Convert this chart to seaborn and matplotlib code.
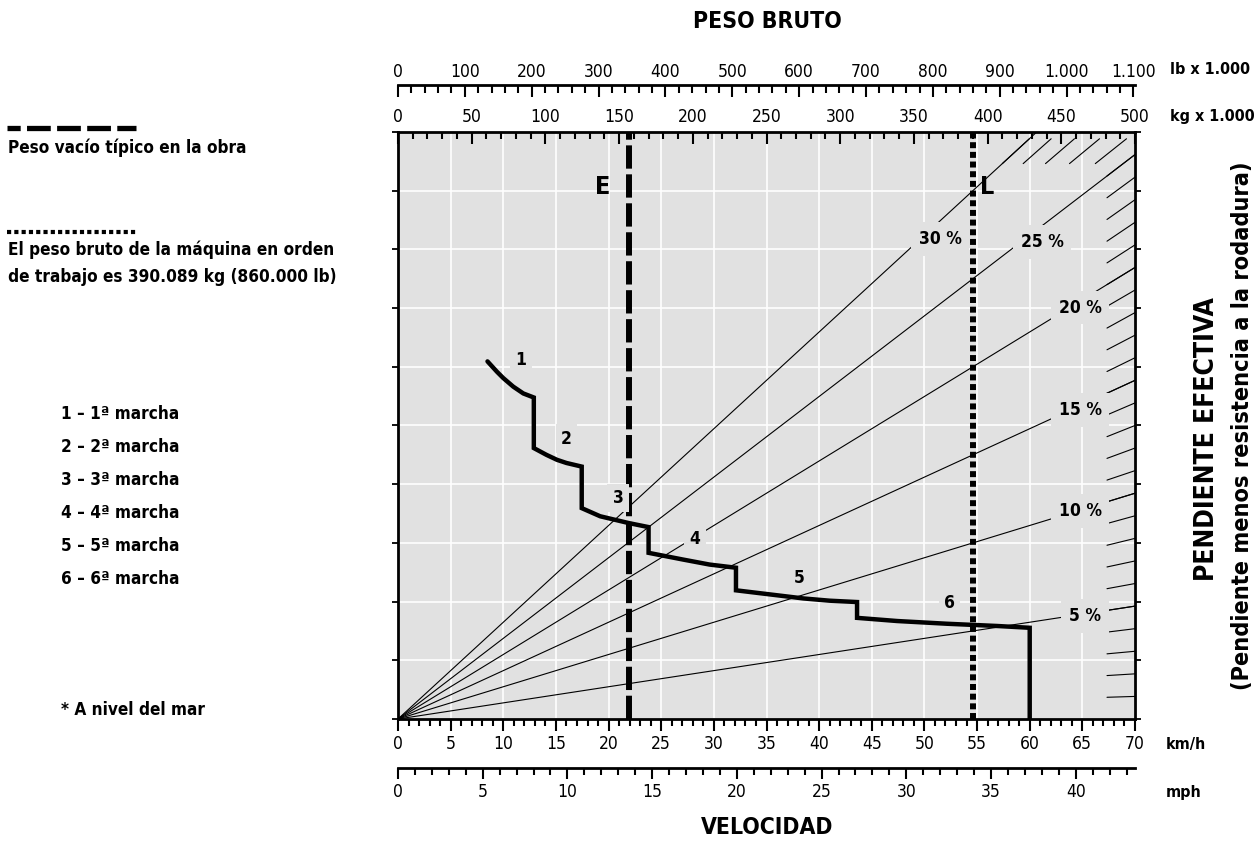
import numpy as np
import pandas as pd
import matplotlib
matplotlib.use("Agg")
import matplotlib.pyplot as plt
import seaborn as sns
from matplotlib.lines import Line2D
from matplotlib.ticker import MultipleLocator, FixedLocator, FuncFormatter

# Rimpull curve for each gear: speed (km/h) and rimpull (kg x 1000)
gear1_kmh = [8.5, 9.4, 10.0, 10.95, 11.9, 12.9]
gear1_pull = [79.2, 76.9, 75.5, 73.6, 72.1, 71.2]
gear2_kmh = [12.9, 14.1, 15.1, 16.0, 17.45]
gear2_pull = [60.0, 58.5, 57.4, 56.7, 55.9]
gear3_kmh = [17.45, 19.2, 21.9, 23.8]
gear3_pull = [46.7, 44.9, 43.4, 42.5]
gear4_kmh = [23.8, 27.1, 29.6, 32.1]
gear4_pull = [36.8, 35.3, 34.2, 33.5]
gear5_kmh = [32.1, 35.3, 38.5, 41.0, 43.6]
gear5_pull = [28.5, 27.6, 26.7, 26.2, 25.9]
gear6_kmh = [43.6, 47.4, 52.1, 56.9, 60.0, 60.0]
gear6_pull = [22.4, 21.7, 21.1, 20.6, 20.2, 0.0]

gear_names = ["1", "2", "3", "4", "5", "6"]

# Effective grade lines (percent) and the fine grade scale on the border
labeled_grades = [5, 10, 15, 20, 25, 30]
scale_grades = list(range(1, 31))

# Reference weights (kg x 1000)
empty_weight = 156.5      # E
gross_weight = 390.089    # L

# Tick values of the secondary scales
lb_major = list(range(0, 1101, 100))
lb_minor = list(range(0, 1101, 20))
mph_major = list(range(0, 41, 5))
mph_minor = list(range(0, 44, 1))

W, H = 1260, 848
FONT = ["Liberation Sans Narrow", "DejaVu Sans"]
BG = "#e1e1e1"
TICK_FS = 12.5
KEY_FS = 12.3

sns.set_theme(style="darkgrid", rc={"axes.facecolor": BG, "grid.color": "white",
                                    "text.color": "black", "xtick.color": "black",
                                    "ytick.color": "black", "axes.labelcolor": "black"})
plt.rcParams["font.family"] = FONT
plt.rcParams["font.stretch"] = "condensed"

fig = plt.figure(figsize=(W / 100, H / 100), dpi=100)
fig.patch.set_facecolor("white")


def fx(px):
    return px / W


def fy(py):
    return 1 - py / H


left, right, top, bottom = 398, 1135, 132, 719
ax = fig.add_axes([fx(left), fy(bottom), (right - left) / W, (bottom - top) / H])
ax.set_xlim(0, 70)
ax.set_ylim(0, 130)
ax.set_facecolor(BG)

# grid and spines
ax.xaxis.set_major_locator(MultipleLocator(5))
ax.xaxis.set_minor_locator(MultipleLocator(1))
ax.yaxis.set_major_locator(MultipleLocator(13))
ax.grid(True, which="major", color="white", linewidth=1.2)
ax.grid(False, which="minor")
for sp in ax.spines.values():
    sp.set_visible(True)
    sp.set_color("black")
    sp.set_linewidth(2.0)

ax.tick_params(axis="x", which="major", direction="out", length=8.5, width=1.5,
               color="black", labelsize=TICK_FS, pad=3, bottom=True, top=False)
ax.tick_params(axis="x", which="minor", direction="out", length=5, width=1.5,
               color="black", bottom=True, top=False)
ax.tick_params(axis="y", which="major", direction="out", length=4, width=1.3,
               color="black", left=True, right=True, labelleft=False, labelright=False)
ax.tick_params(axis="y", which="minor", left=False, right=False)

# rimpull curve across the six gears
curve = pd.DataFrame({
    "kmh": gear1_kmh + gear2_kmh + gear3_kmh + gear4_kmh + gear5_kmh + gear6_kmh,
    "pull": gear1_pull + gear2_pull + gear3_pull + gear4_pull + gear5_pull + gear6_pull,
})
sns.lineplot(data=curve, x="kmh", y="pull", sort=False, estimator=None,
             color="black", linewidth=3.2, ax=ax, solid_joinstyle="miter")
ax.set_xlabel("")
ax.set_ylabel("")

# weight axis (kg x 1000) on the top spine
axw = ax.twiny()
axw.set_xlim(0, 500)
axw.set_ylim(0, 130)
axw.grid(False)
axw.patch.set_visible(False)
for sp in axw.spines.values():
    sp.set_visible(False)
axw.xaxis.set_major_locator(MultipleLocator(50))
axw.xaxis.set_minor_locator(MultipleLocator(10))
axw.tick_params(axis="x", which="major", direction="in", length=8.5, width=1.5,
                color="black", labelsize=TICK_FS, pad=4, top=True, bottom=False)
axw.tick_params(axis="x", which="minor", direction="in", length=5, width=1.5,
                color="black", top=True, bottom=False)
axw.tick_params(axis="y", left=False, right=False, labelleft=False, labelright=False)

# grade lines through the origin: rimpull = grade * weight
w_full = np.array([0, 500])
for g in labeled_grades:
    axw.plot(w_full, g / 100 * w_full, color="black", linewidth=0.8, zorder=2)
for g in scale_grades:
    f = g / 100
    w0 = min(481, 123 / f)
    w1 = min(500, 128.5 / f)
    ws = np.array([w0, w1])
    axw.plot(ws, f * ws, color="black", linewidth=0.8, zorder=2)

# empty / gross weight markers
axw.axvline(empty_weight, color="black", linewidth=4.3, linestyle=(0, (3.9, 0.95)),
            dash_capstyle="butt", zorder=3)
axw.axvline(gross_weight, color="black", linewidth=4.3, linestyle=(0, (1.0, 0.62)),
            dash_capstyle="butt", zorder=3)
axw.text(139, 117.8, "E", fontsize=18, fontweight="bold", ha="center", va="center", zorder=4)
axw.text(400, 117.8, "L", fontsize=18, fontweight="bold", ha="center", va="center", zorder=4)

# grade labels
grade_label_pos = {30: (367.7, 106.3), 25: (437, 105.7), 20: (462.7, 91.1),
                   15: (462.7, 68.5), 10: (462.7, 46.0), 5: (466, 22.8)}
for g in labeled_grades:
    xw, yp = grade_label_pos[g]
    axw.text(xw, yp, f"{g} %", fontsize=12.5, fontweight="bold", ha="center", va="center",
             zorder=5, bbox=dict(boxstyle="square,pad=0.45", facecolor=BG, edgecolor="none"))

# gear labels along the curve
gear_label_pos = [(11.7, 79.6), (16.0, 62.1), (20.9, 48.9), (28.2, 39.8), (38.1, 31.2), (52.4, 25.6)]
for name, (xk, yp) in zip(gear_names, gear_label_pos):
    axw.text(xk, yp, name, transform=ax.transData, fontsize=12.5, fontweight="bold",
             ha="center", va="center", zorder=5,
             bbox=dict(boxstyle="square,pad=0.3", facecolor=BG, edgecolor="none"))

# lb x 1000 scale above the kg scale
KG_PER_LB = 0.45359237
lbax = axw.secondary_xaxis(1 + 47 / 587, functions=(lambda x: x / KG_PER_LB, lambda x: x * KG_PER_LB))
lbax.xaxis.set_major_locator(FixedLocator(lb_major))
lbax.xaxis.set_minor_locator(FixedLocator(lb_minor))
lbax.xaxis.set_major_formatter(FuncFormatter(lambda v, p: f"{int(round(v)):,}".replace(",", ".")))
lbax.tick_params(axis="x", which="major", direction="in", length=8.5, width=1.5,
                 color="black", labelsize=TICK_FS, pad=3)
lbax.tick_params(axis="x", which="minor", direction="in", length=6, width=1.5, color="black")
lbax.spines["top"].set_linewidth(2.0)
lbax.spines["top"].set_color("black")

# mph scale below the km/h scale
KMH_PER_MPH = 1.609344
mphax = ax.secondary_xaxis(-49 / 587, functions=(lambda x: x / KMH_PER_MPH, lambda x: x * KMH_PER_MPH))
mphax.xaxis.set_major_locator(FixedLocator(mph_major))
mphax.xaxis.set_minor_locator(FixedLocator(mph_minor))
mphax.tick_params(axis="x", which="major", direction="out", length=8, width=1.5,
                  color="black", labelsize=TICK_FS, pad=3)
mphax.tick_params(axis="x", which="minor", direction="out", length=5, width=1.5, color="black")
mphax.spines["bottom"].set_linewidth(2.0)
mphax.spines["bottom"].set_color("black")

ax.xaxis.set_major_formatter(FuncFormatter(lambda v, p: f"{int(round(v))}"))
axw.xaxis.set_major_formatter(FuncFormatter(lambda v, p: f"{int(round(v))}"))
mphax.xaxis.set_major_formatter(FuncFormatter(lambda v, p: f"{int(round(v))}"))

# axis titles and units
fig.text(fx(767), fy(22), "PESO BRUTO", fontsize=16.5, fontweight="bold", ha="center", va="center")
fig.text(fx(767), fy(827), "VELOCIDAD", fontsize=16.5, fontweight="bold", ha="center", va="center")
fig.text(fx(1170), fy(70), "lb x 1.000", fontsize=11.5, fontweight="bold", ha="left", va="center")
fig.text(fx(1170), fy(117), "kg x 1.000", fontsize=11.5, fontweight="bold", ha="left", va="center")
fig.text(fx(1166), fy(745), "km/h", fontsize=11.5, fontweight="bold", ha="left", va="center")
fig.text(fx(1166), fy(792), "mph", fontsize=11.5, fontweight="bold", ha="left", va="center")
fig.text(fx(1207), fy(439), "PENDIENTE EFECTIVA", fontsize=19, fontweight="bold",
         rotation=90, ha="center", va="center")
fig.text(fx(1243), fy(426), "(Pendiente menos resistencia a la rodadura)", fontsize=16.8,
         fontweight="bold", rotation=90, ha="center", va="center")

# key on the left
fig.add_artist(Line2D([fx(7), fx(136)], [fy(128), fy(128)], transform=fig.transFigure,
                      color="black", linewidth=3.8, linestyle=(2.0, (4.5, 1.2)),
                      dash_capstyle="butt"))
fig.text(fx(8), fy(153), "Peso vacío típico en la obra", fontsize=KEY_FS, fontweight="bold",
         ha="left", va="baseline")
fig.add_artist(Line2D([fx(7), fx(136)], [fy(232), fy(232)], transform=fig.transFigure,
                      color="black", linewidth=3.0, linestyle=(0, (1.0, 0.75)),
                      dash_capstyle="butt"))
fig.text(fx(8), fy(255), "El peso bruto de la máquina en orden", fontsize=KEY_FS,
         fontweight="bold", ha="left", va="baseline")
fig.text(fx(8), fy(282), "de trabajo es 390.089 kg (860.000 lb)", fontsize=KEY_FS,
         fontweight="bold", ha="left", va="baseline")
for i, name in enumerate(gear_names):
    fig.text(fx(61), fy(419 + 33 * i), f"{name} – {name}ª marcha", fontsize=KEY_FS,
             fontweight="bold", ha="left", va="baseline")
fig.text(fx(61), fy(715), "* A nivel del mar", fontsize=KEY_FS, fontweight="bold",
         ha="left", va="baseline")

fig.savefig("out.png", dpi=100, facecolor="white")
